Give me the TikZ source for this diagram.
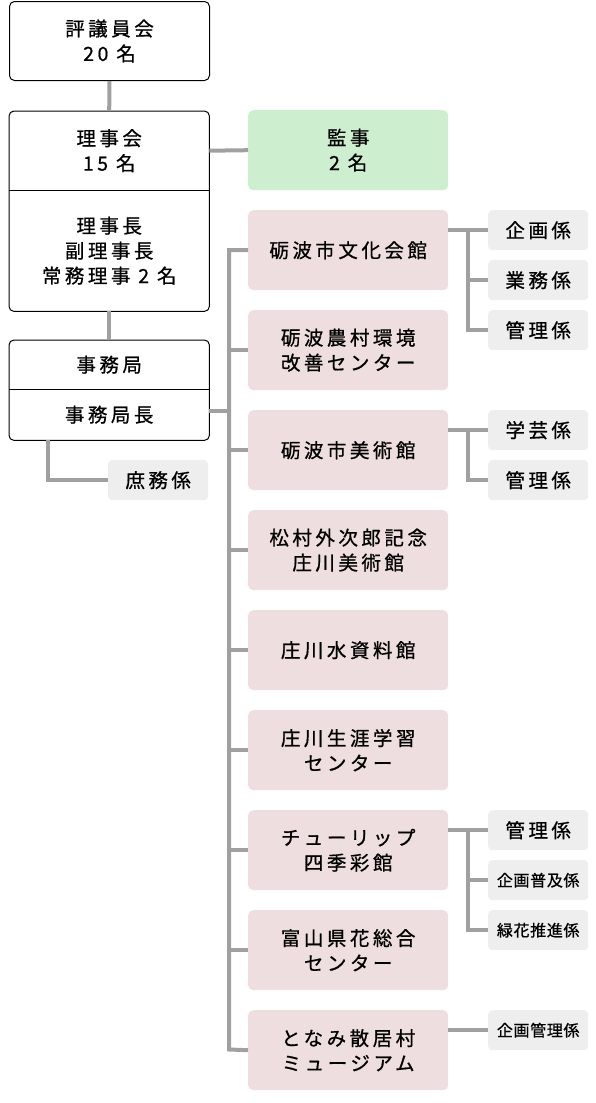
\documentclass[tikz,border=0pt]{standalone}
\usepackage{fontspec}
\setmainfont{Noto Sans CJK JP}[FakeBold=0.8]
\definecolor{linegray}{HTML}{A0A0A0}
\definecolor{kanjigreen}{HTML}{CDEFCF}
\definecolor{facilitypink}{HTML}{EFDEDF}
\definecolor{sectiongray}{HTML}{EEEEEE}
\newcommand\orgfont{\fontsize{19.5}{25}\selectfont\addfontfeature{LetterSpace=18}}
\newcommand\smallorgfont{\fontsize{16}{20}\selectfont\addfontfeature{LetterSpace=4}}
\begin{document}
\begin{tikzpicture}[x=1pt,y=-1pt,
		plain/.style={rectangle, anchor=north west, minimum width=200pt, inner sep=0pt, align=center, font=\orgfont},
		wbox/.style={plain, draw=black, line width=1pt, rounded corners=5pt, minimum height=79pt},
		kanjibox/.style={plain, fill=kanjigreen, rounded corners=5pt, minimum height=80pt},
		facility/.style={plain, fill=facilitypink, rounded corners=5pt, minimum height=80pt},
		section/.style={plain, fill=sectiongray, rounded corners=4pt, minimum width=100pt, minimum height=40pt},
		smallsection/.style={section, font=\smallorgfont},
		frame/.style={draw=black, line width=1pt, rounded corners=5pt},
		conn/.style={draw=linegray, line width=4pt}
	]
	\useasboundingbox (0,0) rectangle (595,1103);

	% left column
	\node[wbox] (hyogi) at (9,1) {評議員会\\20 名};
	\node[plain, minimum height=79pt] (rijikai) at (9,111) {理事会\\15 名};
	\node[plain, minimum height=121pt] (richo) at (9,190) {理事長\\副理事長\\常務理事 2 名};
	\draw[frame] (rijikai.north west) rectangle (richo.south east);
	\draw[line width=1pt] (rijikai.south west) -- (rijikai.south east);
	\node[plain, minimum height=49pt] (jimukyoku) at (9,340) {事務局};
	\node[plain, minimum height=51pt] (jimukyokucho) at (9,389) {事務局長};
	\draw[frame] (jimukyoku.north west) rectangle (jimukyokucho.south east);
	\draw[line width=1pt] (jimukyoku.south west) -- (jimukyoku.south east);
	\node[section] (shomu) at (108,460) {庶務係};

	\node[kanjibox] (kanji) at (248,110) {監事\\2 名};

	% facilities
	\node[facility] (bunka) at (248,210) {砺波市文化会館};
	\node[facility] (noson) at (248,310) {砺波農村環境\\改善センター};
	\node[facility] (bijutsu) at (248,410) {砺波市美術館};
	\node[facility] (matsumura) at (248,510) {松村外次郎記念\\庄川美術館};
	\node[facility] (mizu) at (248,610) {庄川水資料館};
	\node[facility] (shogai) at (248,710) {庄川生涯学習\\センター};
	\node[facility] (tulip) at (248,810) {チューリップ\\四季彩館};
	\node[facility] (hana) at (248,910) {富山県花総合\\センター};
	\node[facility] (tonami) at (248,1010) {となみ散居村\\ミュージアム};

	% sections
	\node[section] (bunkaKikaku) at (488,210) {企画係};
	\node[section] (bunkaGyomu) at (488,260) {業務係};
	\node[section] (bunkaKanri) at (488,310) {管理係};
	\node[section] (bijutsuGakugei) at (488,410) {学芸係};
	\node[section] (bijutsuKanri) at (488,460) {管理係};
	\node[section] (tulipKanri) at (488,810) {管理係};
	\node[smallsection] (tulipFukyu) at (488,860) {企画普及係};
	\node[smallsection] (tulipRyokka) at (488,910) {緑花推進係};
	\node[smallsection] (tonamiKikaku) at (488,1010) {企画管理係};

	% connectors
	\draw[conn] (hyogi.south) -- (rijikai.north);
	\draw[conn] (richo.south) -- (jimukyoku.north);
	\draw[conn] (rijikai.east) -- (kanji.west);
	\draw[conn] ([xshift=39pt]jimukyokucho.south west) |- (shomu.west);

	\coordinate (trunkbot) at (229,1049.5);
	\draw[conn] (bunka.west) -| (trunkbot) -- (tonami.west);
	\foreach \f in {noson,bijutsu,matsumura,mizu,shogai,tulip,hana}
		\draw[conn] (\f.west -| trunkbot) -- (\f.west);
	\draw[conn] ([yshift=4pt]jimukyokucho.east) -- ([yshift=4pt]jimukyokucho.east -| trunkbot);

	\draw[conn] (bunka.east |- bunkaKikaku.west) -- (bunkaKikaku.west);
	\draw[conn] ([xshift=-20pt]bunkaKikaku.west) |- (bunkaKanri.west);
	\draw[conn] ([xshift=-20pt]bunkaGyomu.west) -- (bunkaGyomu.west);
	\draw[conn] (bijutsu.east |- bijutsuGakugei.west) -- (bijutsuGakugei.west);
	\draw[conn] ([xshift=-20pt]bijutsuGakugei.west) |- (bijutsuKanri.west);
	\draw[conn] (tulip.east |- tulipKanri.west) -- (tulipKanri.west);
	\draw[conn] ([xshift=-20pt]tulipKanri.west) |- (tulipRyokka.west);
	\draw[conn] ([xshift=-20pt]tulipFukyu.west) -- (tulipFukyu.west);
	\draw[conn] (tonami.east |- tonamiKikaku.west) -- (tonamiKikaku.west);

\end{tikzpicture}
\end{document}
